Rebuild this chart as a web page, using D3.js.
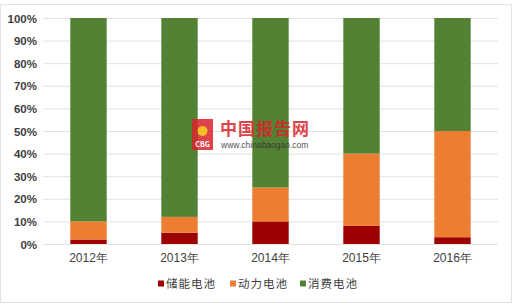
<!doctype html>
<html lang="zh">
<head>
<meta charset="utf-8">
<title>电池结构</title>
<style>
html, body { margin: 0; padding: 0; background: #fff; }
svg { display: block; font-family: "Noto Sans CJK SC", "Noto Sans", sans-serif; }
</style>
</head>
<body>
<svg id="chart"></svg>
<script src="https://d3js.org/d3.v7.min.js"></script>
<script>
var years = ["2012年", "2013年", "2014年", "2015年", "2016年"];
var storage = [2, 5, 10, 8, 3];     // 储能电池
var power = [8, 7, 15, 32, 47];     // 动力电池
var consumer = [90, 88, 75, 60, 50]; // 消费电池
var seriesNames = ["储能电池", "动力电池", "消费电池"];
var colors = ["#9c0000", "#ed7d31", "#548235"];
var yTicks = [0, 10, 20, 30, 40, 50, 60, 70, 80, 90, 100];

var W = 520, H = 308;
var svg = d3.select("#chart").attr("width", W).attr("height", H);

// outer frame
svg.append("rect").attr("x", 0.5).attr("y", 4.5).attr("width", 511).attr("height", 298)
  .attr("fill", "none").attr("stroke", "#e3e3e3");

var x = d3.scaleBand().domain(years).range([43, 498]).paddingInner(0.6).paddingOuter(0.3);
var y = d3.scaleLinear().domain([0, 100]).range([244, 18]);

// grid
svg.append("g").selectAll("line").data(yTicks).enter().append("line")
  .attr("x1", 43).attr("x2", 498)
  .attr("y1", function(d){ return y(d) + 0.5; })
  .attr("y2", function(d){ return y(d) + 0.5; })
  .attr("stroke", "#e2e2e2").attr("stroke-width", 1);

var rows = years.map(function(yr, i) {
  return { year: yr, s0: storage[i], s1: power[i], s2: consumer[i] };
});
var stack = d3.stack().keys(["s0", "s1", "s2"])(rows);

svg.append("g").selectAll("g").data(stack).enter().append("g")
  .attr("fill", function(d, i){ return colors[i]; })
  .selectAll("rect").data(function(d){ return d; }).enter().append("rect")
  .attr("x", function(d){ return x(d.data.year); })
  .attr("width", x.bandwidth())
  .attr("y", function(d){ return y(d[1]); })
  .attr("height", function(d){ return y(d[0]) - y(d[1]); });

// y axis labels
var yAxis = d3.axisLeft(y).tickValues(yTicks).tickSize(0).tickPadding(0)
  .tickFormat(function(d){ return d + "%"; });
var ga = svg.append("g").attr("transform", "translate(37,0)").call(yAxis);
ga.select(".domain").remove();
ga.selectAll("text").attr("fill", "#404040").attr("font-size", 11.5)
  .attr("font-family", "Liberation Sans, Arial, sans-serif").attr("font-weight", "bold").attr("dy", "0.35em");

// x axis labels
var xAxis = d3.axisBottom(x).tickSize(0).tickPadding(0);
var gx = svg.append("g").attr("transform", "translate(0,251)").call(xAxis);
gx.select(".domain").remove();
gx.selectAll("text").attr("fill", "#404040").attr("font-size", 12).attr("dy", "0.9em");

// legend
var legX = [158, 230, 300];
var leg = svg.append("g").selectAll("g").data(seriesNames).enter().append("g")
  .attr("transform", function(d, i){ return "translate(" + legX[i] + ",284)"; });
leg.append("rect").attr("x", 0).attr("y", -3.5).attr("width", 6).attr("height", 6)
  .attr("fill", function(d, i){ return colors[i]; });
leg.append("text").attr("x", 8).attr("dy", "0.35em").attr("font-size", 11.5)
  .attr("fill", "#404040").attr("letter-spacing", 1).text(function(d){ return d; });

// watermark
var wm = svg.append("g").attr("opacity", 0.85);
wm.append("rect").attr("x", 192).attr("y", 119).attr("width", 21).attr("height", 31)
  .attr("fill", "#d9242b");
wm.append("text").attr("x", 202.5).attr("y", 147).attr("text-anchor", "middle")
  .attr("font-size", 7).attr("font-weight", "bold").attr("fill", "#fff").text("CBG");
wm.append("circle").attr("cx", 202.5).attr("cy", 131).attr("r", 5).attr("fill", "#f4b400");
wm.append("text").attr("x", 220).attr("y", 135).attr("font-size", 17).attr("font-weight", "bold")
  .attr("fill", "#d9242b").attr("letter-spacing", 1).text("中国报告网");
wm.append("text").attr("x", 221).attr("y", 148).attr("font-size", 8.5)
  .attr("font-family", "Liberation Sans, Arial, sans-serif").attr("fill", "#333").text("www.chinabaogao.com");
</script>
</body>
</html>
